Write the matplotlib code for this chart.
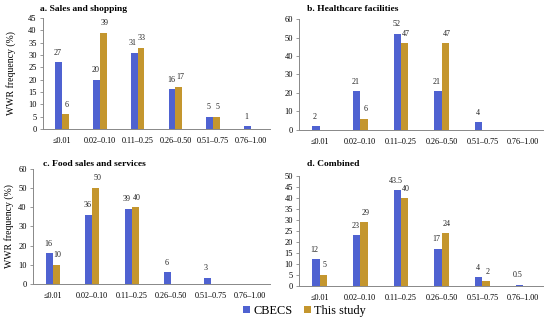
import matplotlib
matplotlib.use("Agg")
import matplotlib.pyplot as plt
import numpy as np

plt.rcParams['font.family'] = ['Liberation Serif', 'DejaVu Serif']

categorias = ["≤0.01", "0.02–0.10", "0.11–0.25", "0.26–0.50", "0.51–0.75", "0.76–1.00"]

cbecs_a = [27, 20, 31, 16, 5, 1]
study_a = [6, 39, 33, 17, 5, 0]
cbecs_b = [2, 21, 52, 21, 4, 0]
study_b = [0, 6, 47, 47, 0, 0]
cbecs_c = [16, 36, 39, 6, 3, 0]
study_c = [10, 50, 40, 0, 0, 0]
cbecs_d = [12, 23, 43.5, 17, 4, 0.5]
study_d = [5, 29, 40, 24, 2, 0]

titulos = ["a. Sales and shopping", "b. Healthcare facilities",
           "c. Food sales and services", "d. Combined"]

azul = '#4f62d1'
oro = '#c4962e'

fig = plt.figure(figsize=(5.5, 3.23), dpi=100)

# posiciones de cada panel: caja, ymax, paso, labelpad del eje y (None = sin etiqueta), titulo
ejes = [
    ([0.078, 0.601, 0.413, 0.343], 45, 5, 9, (0.073, 0.972)),
    ([0.544, 0.598, 0.444, 0.343], 60, 10, None, (0.558, 0.972)),
    ([0.060, 0.121, 0.431, 0.356], 60, 10, 3, (0.078, 0.492)),
    ([0.544, 0.115, 0.444, 0.340], 50, 5, None, (0.558, 0.492)),
]
datos = [(cbecs_a, study_a), (cbecs_b, study_b), (cbecs_c, study_c), (cbecs_d, study_d)]

x = np.arange(len(categorias))
w = 0.18

for (pos, ymax, paso, lpad, tpos), (c1, c2), titulo in zip(ejes, datos, titulos):
    ax = fig.add_axes(pos)
    b1 = ax.bar(x - w / 2, c1, w, color=azul, label='CBECS')
    b2 = ax.bar(x + w / 2, c2, w, color=oro, label='This study')
    for barras, vals, dx in ((b1, c1, -0.03), (b2, c2, 0.03)):
        for b, v in zip(barras, vals):
            if v > 0:
                ax.text(b.get_x() + b.get_width() / 2 + dx, v + ymax * 0.05, f"{v:g}",
                        ha='center', va='bottom', fontsize=5.8, color='#222222')
    ax.set_xlim(-0.5, len(categorias) - 0.5)
    ax.set_ylim(0, ymax)
    ax.set_yticks(np.arange(0, ymax + 1, paso))
    ax.set_xticks(x)
    ax.set_xticklabels(categorias, fontsize=5.9)
    ax.tick_params(axis='y', labelsize=6, length=2.5, width=0.6, color='#888888', pad=2)
    ax.tick_params(axis='x', length=0, pad=6)
    for s in ('top', 'right'):
        ax.spines[s].set_visible(False)
    for s in ('left', 'bottom'):
        ax.spines[s].set_color('#888888')
        ax.spines[s].set_linewidth(0.7)
    if lpad is not None:
        ax.set_ylabel("WWR frequency (%)", fontsize=7, labelpad=lpad)
    fig.text(tpos[0], tpos[1], titulo, fontsize=6.8, fontweight='bold', va='center')

h, l = ax.get_legend_handles_labels()
fig.legend(h, l, loc='center', bbox_to_anchor=(0.554, 0.037), ncol=2, frameon=False,
           fontsize=8.8, handlelength=0.55, handleheight=0.55, handletextpad=0.3,
           columnspacing=0.9)

fig.savefig("out.png", dpi=100)
